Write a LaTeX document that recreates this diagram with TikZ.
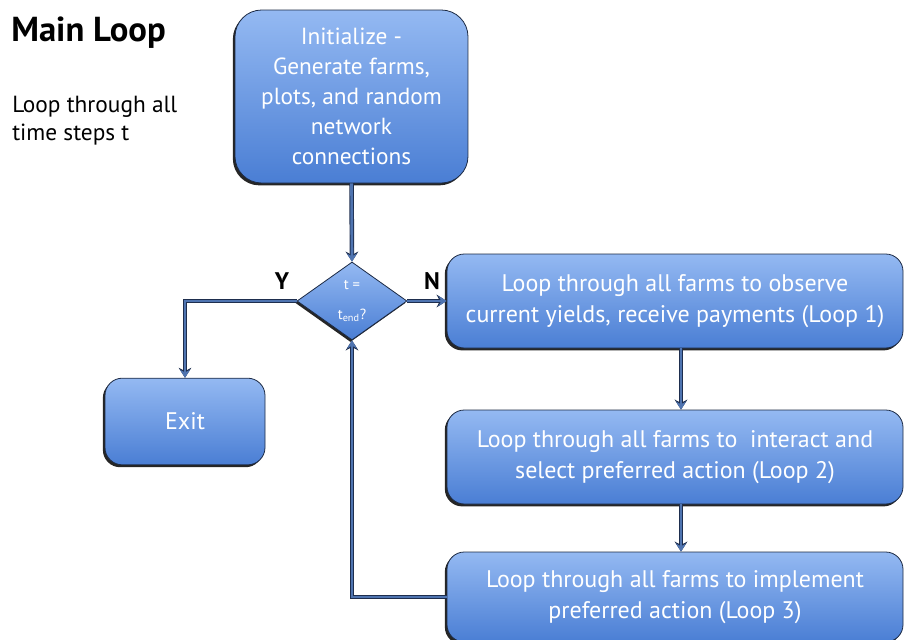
\documentclass[tikz,border=0pt]{standalone}
\usepackage{fontspec}
\setmainfont{PT Sans}
\usetikzlibrary{shapes.geometric,arrows.meta,shadows}
\definecolor{boxtop}{HTML}{94B9F2}
\definecolor{boxbot}{HTML}{4A7ED4}
\definecolor{boxline}{HTML}{1C2A44}
\definecolor{lineblue}{HTML}{4F74B0}
\definecolor{linedark}{HTML}{1E2E4E}
\tikzset{
  flowbox/.style={draw=boxline, line width=0.6pt, top color=boxtop, bottom color=boxbot,
    text=white, align=center, inner sep=0pt, rounded corners=13pt,
    drop shadow={shadow xshift=-1.6pt, shadow yshift=-1.8pt, fill=black!85, opacity=1}},
  decision/.style={diamond, draw=boxline, line width=0.6pt, top color=boxtop, bottom color=boxbot,
    text=white, align=center, inner sep=0pt, minimum width=82.5pt, minimum height=58.5pt,
    drop shadow={shadow xshift=-1.2pt, shadow yshift=-1.5pt, fill=black!85, opacity=1}},
  conn/.style={draw=lineblue, line width=2pt, -{Stealth[length=6pt,width=7.5pt,inset=2pt]},
    preaction={draw=linedark, line width=3.4pt, -{Stealth[length=7.5pt,width=9.5pt,inset=2.5pt]}}},
  boxtext/.style={font=\fontsize{18pt}{23.5pt}\selectfont},
}
\begin{document}
\begin{tikzpicture}[x=0.75pt,y=-0.75pt]
\useasboundingbox (0,0) rectangle (906,639);
\node[anchor=base west, inner sep=0pt, font=\fontsize{26pt}{28pt}\selectfont\bfseries] (title) at (11,41) {Main Loop};
\node[anchor=base west, align=left, inner sep=0pt, font=\fontsize{17.5pt}{21pt}\selectfont] (sub) at (12,140) {Loop through all\\time steps t};

\node[flowbox, rounded corners=20pt, minimum width=174.75pt, minimum height=129.75pt, font=\fontsize{17.5pt}{22.5pt}\selectfont] (init) at (351.5,96.5)
  {Initialize -\\Generate farms,\\plots, and random\\network\\connections};
\node[decision] (dec) at (352,301) {\fontsize{11pt}{13pt}\selectfont t =\\[10pt]\fontsize{11pt}{13pt}\selectfont t$_{\mathrm{end}}$?};
\node[flowbox, minimum width=342pt, minimum height=70.5pt, boxtext] (l1) at (675,301)
  {Loop through all farms to observe\\current yields, receive payments (Loop 1)};
\node[flowbox, minimum width=342pt, minimum height=70.5pt, boxtext] (l2) at (675,457)
  {Loop through all farms to\ \ interact and\\select preferred action (Loop 2)};
\node[flowbox, minimum width=342pt, minimum height=67.5pt, boxtext] (l3) at (675,597)
  {Loop through all farms to implement\\preferred action (Loop 3)};
\node[flowbox, minimum width=120pt, minimum height=65pt, font=\fontsize{18pt}{20pt}\selectfont] (exit) at (185,421.5) {Exit};

\node[font=\fontsize{18pt}{20pt}\selectfont\bfseries] (ylab) at (282,281) {Y};
\node[font=\fontsize{18pt}{20pt}\selectfont\bfseries] (nlab) at (432,281) {N};

\coordinate (vx) at (681,0);
\draw[conn] (init.south) -- (dec.north);
\draw[conn] (dec.east) -- (l1.west);
\draw[conn] (dec.west) -| (exit.north);
\draw[conn] (l1.south -| vx) -- (l2.north -| vx);
\draw[conn] (l2.south -| vx) -- (l3.north -| vx);
\draw[conn] (l3.west) -| (dec.south);
\end{tikzpicture}
\end{document}
